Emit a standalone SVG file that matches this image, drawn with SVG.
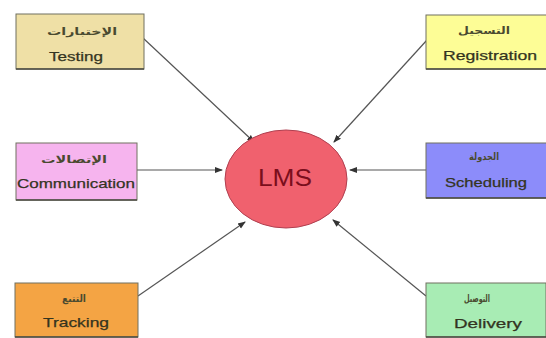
<svg xmlns="http://www.w3.org/2000/svg" width="546" height="338" viewBox="0 0 546 338">
<style>
.box{stroke:#707060;stroke-width:1}
.sh{stroke:#4a4a40;stroke-width:1.6}
.ar{font-family:"DejaVu Sans",sans-serif;font-size:10px;font-weight:bold;fill:#4a4a30;text-anchor:middle}
.en{font-family:"Liberation Sans",Arial,sans-serif;font-size:13px;fill:#34341f;text-anchor:middle;stroke:#34341f;stroke-width:0.25}
.cn line{stroke:#555;stroke-width:1.2;marker-end:url(#ah)}
</style>
<defs>
<marker id="ah" markerWidth="8" markerHeight="8" refX="7" refY="4" orient="auto" markerUnits="userSpaceOnUse">
<path d="M0,1 L8,4 L0,7 Z" fill="#333"/>
</marker>
</defs>
<rect width="546" height="338" fill="#ffffff"/>
<g class="cn" id="connectors">
<line x1="143" y1="38" x2="254" y2="142"/>
<line x1="427" y1="40" x2="334" y2="142"/>
<line x1="137" y1="170" x2="222" y2="170"/>
<line x1="426" y1="170" x2="350" y2="170"/>
<line x1="138" y1="296" x2="245" y2="222"/>
<line x1="426" y1="296" x2="333" y2="220"/>
</g>
<g id="testing">
<rect class="box" x="16" y="14" width="128" height="55" fill="#efe0a6"/>
<line class="sh" x1="16" y1="69" x2="144" y2="69"/>
<text class="ar" x="82" y="35" textLength="70" lengthAdjust="spacingAndGlyphs" direction="rtl">الإختبارات</text>
<text class="en" x="76" y="61" textLength="54" lengthAdjust="spacingAndGlyphs">Testing</text>
</g>
<g id="registration">
<rect class="box" x="426" y="15" width="122" height="54" fill="#fdfd96"/>
<line class="sh" x1="426" y1="69" x2="546" y2="69"/>
<text class="ar" x="484" y="34" textLength="52" lengthAdjust="spacingAndGlyphs" direction="rtl">التسجيل</text>
<text class="en" x="490" y="60" textLength="94" lengthAdjust="spacingAndGlyphs">Registration</text>
</g>
<g id="communication">
<rect class="box" x="16" y="143" width="121" height="57" fill="#f6b4ee"/>
<line class="sh" x1="16" y1="200" x2="137" y2="200"/>
<text class="ar" x="74" y="163" textLength="66" lengthAdjust="spacingAndGlyphs" direction="rtl">الإتصالات</text>
<text class="en" x="76" y="188" textLength="118" lengthAdjust="spacingAndGlyphs">Communication</text>
</g>
<g id="scheduling">
<rect class="box" x="426" y="143" width="122" height="55" fill="#8c8cfa"/>
<line class="sh" x1="426" y1="198" x2="546" y2="198"/>
<text class="ar" x="484" y="160" textLength="30" lengthAdjust="spacingAndGlyphs" direction="rtl">الجدولة</text>
<text class="en" x="486" y="187" textLength="82" lengthAdjust="spacingAndGlyphs">Scheduling</text>
</g>
<g id="tracking">
<rect class="box" x="15" y="283" width="123" height="54" fill="#f4a444"/>
<line class="sh" x1="15" y1="337" x2="138" y2="337"/>
<text class="ar" x="74" y="302" textLength="24" lengthAdjust="spacingAndGlyphs" direction="rtl">التتبع</text>
<text class="en" x="76" y="327" textLength="66" lengthAdjust="spacingAndGlyphs">Tracking</text>
</g>
<g id="delivery">
<rect class="box" x="426" y="283" width="120" height="54" fill="#a8ecb4"/>
<line class="sh" x1="426" y1="337" x2="546" y2="337"/>
<text class="ar" x="477" y="302" textLength="26" lengthAdjust="spacingAndGlyphs" direction="rtl">التوصيل</text>
<text class="en" x="488" y="328" textLength="68" lengthAdjust="spacingAndGlyphs">Delivery</text>
</g>
<g id="lms">
<ellipse cx="286" cy="179" rx="61" ry="49" fill="#f0616e" stroke="#b04050" stroke-width="1"/>
<text x="285" y="186" font-family="Liberation Sans,Arial,sans-serif" font-size="24" fill="#7a0e1c" text-anchor="middle" textLength="54" lengthAdjust="spacingAndGlyphs">LMS</text>
</g>
</svg>
